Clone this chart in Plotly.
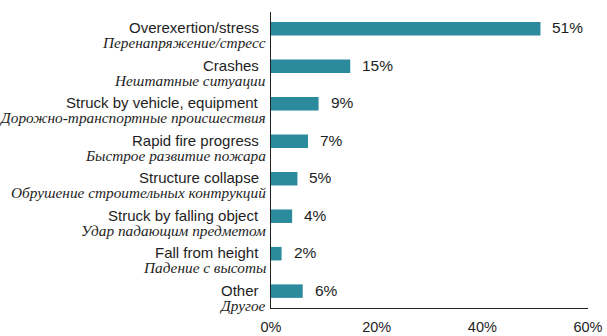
import plotly.graph_objects as go

# Causes of firefighter fatalities, share of total (%)
causes_en = [
    "Overexertion/stress",
    "Crashes",
    "Struck by vehicle, equipment",
    "Rapid fire progress",
    "Structure collapse",
    "Struck by falling object",
    "Fall from height",
    "Other",
]
causes_ru = [
    "Перенапряжение/стресс",
    "Нештатные ситуации",
    "Дорожно-транспортные происшествия",
    "Быстрое развитие пожара",
    "Обрушение строительных контрукций",
    "Удар падающим предметом",
    "Падение с высоты",
    "Другое",
]
shares = [51, 15, 9, 7, 5, 4, 2, 6]
x_ticks = [0, 20, 40, 60]

BAR_COLOR = "#2b8a9b"
TEXT_COLOR = "#1e1e1e"
SANS = "Liberation Sans, Arial, sans-serif"
SERIF = "Liberation Serif, Times New Roman, serif"

fig = go.Figure(
    go.Bar(
        x=shares,
        y=causes_en,
        orientation="h",
        width=0.36,
        marker=dict(color=BAR_COLOR, line=dict(width=0)),
        hoverinfo="skip",
    )
)

annotations = []
for en, ru, v in zip(causes_en, causes_ru, shares):
    # English category name, level with the bar
    annotations.append(dict(
        x=0, y=en, xref="paper", yref="y", text=en,
        xanchor="right", yanchor="middle", xshift=-10, yshift=1,
        showarrow=False,
        font=dict(family=SANS, size=15, color=TEXT_COLOR),
    ))
    # Russian translation underneath, in italic serif
    annotations.append(dict(
        x=0, y=en, xref="paper", yref="y", text=f"<i>{ru}</i>",
        xanchor="right", yanchor="middle", xshift=-3, yshift=-14,
        showarrow=False,
        font=dict(family=SERIF, size=15.3, color=TEXT_COLOR),
    ))
    # value label to the right of the bar
    annotations.append(dict(
        x=v, y=en, xref="x", yref="y", text=f"{v}%",
        xanchor="left", yanchor="middle", xshift=10, yshift=1,
        showarrow=False,
        font=dict(family=SANS, size=15.5, color=TEXT_COLOR),
    ))

fig.update_layout(
    width=607,
    height=336,
    margin=dict(l=271, r=19, t=12, b=28),
    paper_bgcolor="white",
    plot_bgcolor="white",
    showlegend=False,
    annotations=annotations,
    xaxis=dict(
        range=[0, 60],
        tickvals=x_ticks,
        ticktext=[f"{t}%" for t in x_ticks],
        showgrid=False,
        zeroline=False,
        showline=True,
        linecolor="#222",
        linewidth=1.2,
        ticks="",
        ticklabelstandoff=5,
        automargin=False,
        tickfont=dict(family=SANS, size=14.5, color=TEXT_COLOR),
        fixedrange=True,
    ),
    yaxis=dict(
        range=[len(causes_en) - 0.55, -0.45],
        showticklabels=False,
        showgrid=False,
        zeroline=False,
        showline=True,
        linecolor="#222",
        linewidth=1.2,
        ticks="",
        automargin=False,
        fixedrange=True,
    ),
)

fig.write_html("out.html", config={"displayModeBar": False})
